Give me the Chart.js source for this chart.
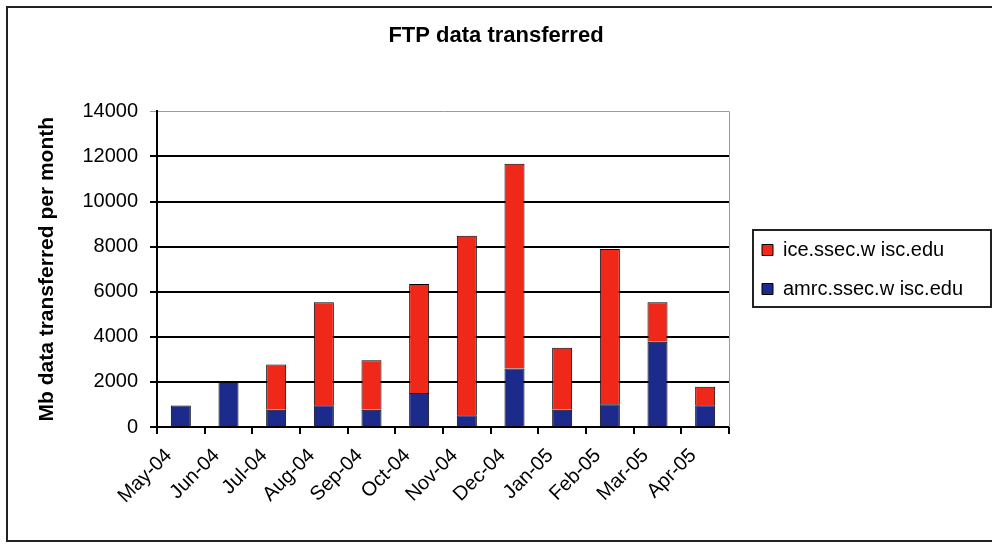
<!DOCTYPE html>
<html>
<head>
<meta charset="utf-8">
<script src="https://cdn.jsdelivr.net/npm/chart.js@4/dist/chart.umd.min.js"></script>
<style>
  body { margin: 0; background: #fff; }
  #wrap { width: 992px; height: 545px; }
</style>
</head>
<body>
<div id="wrap"><canvas id="ftpChart"></canvas></div>
<script>
const months = ['May-04', 'Jun-04', 'Jul-04', 'Aug-04', 'Sep-04', 'Oct-04', 'Nov-04', 'Dec-04', 'Jan-05', 'Feb-05', 'Mar-05', 'Apr-05'];
const amrcValues = [950, 2000, 770, 960, 770, 1510, 520, 2590, 770, 1010, 3780, 960];
const iceValues = [0, 0, 2000, 4570, 2190, 4830, 7960, 9090, 2740, 6890, 1750, 820];
const yTicks = [0, 2000, 4000, 6000, 8000, 10000, 12000, 14000];

const FONT = '"Liberation Sans", Arial, sans-serif';

// frame round the whole chart, plot area edge and legend box
const framePlugin = {
  id: 'frame',
  afterInit(chart) {
    const fit = chart.legend.fit;
    chart.legend.fit = function () {
      fit.call(this);
      this.width = 263;
    };
  },
  afterLayout(chart) {
    chart.legend.left += 14;
    chart.legend.top -= 13;
    chart.legend.bottom -= 13;
  },
  afterDraw(chart) {
    const ctx = chart.ctx;
    const area = chart.chartArea;
    ctx.save();
    ctx.strokeStyle = '#222';
    ctx.lineWidth = 2;
    ctx.strokeRect(7, 7, 1000, 534);

    ctx.strokeStyle = '#a8a060';
    ctx.lineWidth = 1;
    ctx.beginPath();
    ctx.moveTo(area.right + 0.5, area.top);
    ctx.lineTo(area.right + 0.5, area.bottom);
    ctx.stroke();

    const boxes = chart.legend.legendHitBoxes;
    if (boxes.length) {
      const first = boxes[0];
      const last = boxes[boxes.length - 1];
      ctx.strokeStyle = '#222';
      ctx.lineWidth = 2;
      ctx.strokeRect(first.left - 9, first.top - 10, 238, last.top + last.height - first.top + 18);
    }
    ctx.restore();
  }
};

new Chart(document.getElementById('ftpChart'), {
  type: 'bar',
  data: {
    labels: months,
    datasets: [
      {
        label: 'amrc.ssec.w isc.edu',
        data: amrcValues,
        backgroundColor: '#1c2a8c',
        borderColor: '#000',
        borderWidth: 1,
        barPercentage: 0.42,
        categoryPercentage: 1
      },
      {
        label: 'ice.ssec.w isc.edu',
        data: iceValues,
        backgroundColor: '#f0281a',
        borderColor: '#000',
        borderWidth: 1,
        barPercentage: 0.42,
        categoryPercentage: 1
      }
    ]
  },
  options: {
    responsive: true,
    maintainAspectRatio: false,
    animation: false,
    layout: { padding: { top: 20, right: 0, bottom: 0, left: 0 } },
    plugins: {
      title: {
        display: true,
        text: 'FTP data transferred',
        color: '#000',
        font: { family: FONT, size: 22, weight: 'bold', lineHeight: 1.2 },
        padding: { top: 3, bottom: 62 }
      },
      legend: {
        position: 'right',
        reverse: true,
        labels: {
          color: '#000',
          font: { family: FONT, size: 20 },
          boxWidth: 11,
          boxHeight: 11,
          padding: 19
        }
      },
      tooltip: { enabled: false }
    },
    scales: {
      x: {
        stacked: true,
        afterFit(scale) { scale.height = 118; },
        grid: {
          display: true,
          drawOnChartArea: false,
          drawTicks: true,
          tickLength: 7,
          color: '#000',
          lineWidth: 2
        },
        border: { display: true, color: '#000', width: 2 },
        ticks: {
          color: '#000',
          minRotation: 45,
          maxRotation: 45,
          padding: 10,
          labelOffset: -12,
          font: { family: FONT, size: 20 }
        }
      },
      y: {
        stacked: true,
        min: 0,
        max: 14000,
        afterFit(scale) { scale.width = 157; },
        afterBuildTicks(scale) { scale.ticks = yTicks.map(v => ({ value: v })); },
        grid: {
          drawTicks: true,
          tickLength: 7,
          color: ctx => (ctx.tick && ctx.tick.value === 14000 ? '#a8a060' : '#000'),
          lineWidth: ctx => (ctx.tick && ctx.tick.value === 14000 ? 1 : 2)
        },
        border: { display: true, color: '#000', width: 2 },
        ticks: {
          color: '#000',
          padding: 12,
          font: { family: FONT, size: 20 },
          callback: value => String(value)
        },
        title: {
          display: true,
          text: 'Mb data transferred per month',
          color: '#000',
          font: { family: FONT, size: 21, weight: 'bold', lineHeight: 1.2 },
          padding: { top: 35, bottom: 0 }
        }
      }
    }
  },
  plugins: [framePlugin]
});
</script>
</body>
</html>
